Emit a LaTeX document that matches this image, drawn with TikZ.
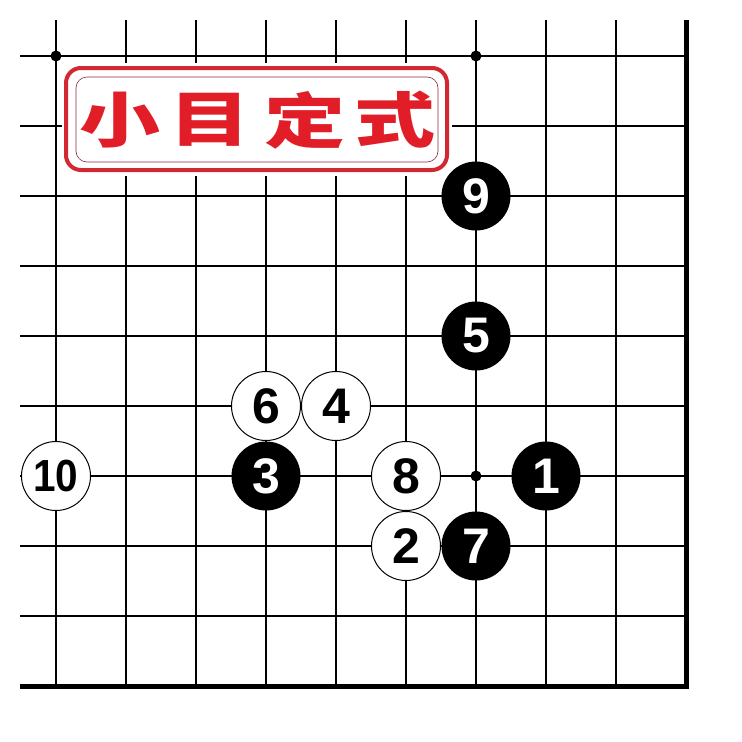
\documentclass[tikz,border=0pt]{standalone}
\usepackage{fontspec}
\setmainfont{Liberation Sans}
\newfontfamily\cjkfont{Noto Sans CJK SC}
\definecolor{boxred}{RGB}{210,40,50}
\definecolor{textred}{RGB}{225,30,40}
\definecolor{innerred}{RGB}{140,40,70}
\begin{document}
\begin{tikzpicture}[x=1pt,y=-1pt,
  gridline/.style={line width=2pt, black},
  border/.style={line width=5pt, black},
  stonebase/.style={circle, inner sep=0pt, minimum size=69pt, font=\fontsize{50}{50}\selectfont\bfseries},
  bstone/.style={stonebase, fill=black, text=white},
  wstone/.style={stonebase, fill=white, draw=black, line width=1pt, text=black},
  titlechar/.style={inner sep=0pt, text=textred, font=\cjkfont\bfseries\fontsize{60}{60}\selectfont}
]
\useasboundingbox[fill=white] (0,0) rectangle (742,742);
% grid
\foreach \x in {56,126,196,266,336,406,476,546,616}
  \draw[gridline] (\x,20) -- (\x,686);
\foreach \y in {56,126,196,266,336,406,476,546,616}
  \draw[gridline] (20,\y) -- (686,\y);
\draw[border] (686.5,20) -- (686.5,689);
\draw[border] (20,686.5) -- (689,686.5);
% star points
\foreach \p in {(56,56),(476,56),(476,476)}
  \fill \p circle (5.5pt);
% title box
\fill[white] (62,63) rectangle (452,176);
\draw[boxred, line width=4pt, rounded corners=15pt] (66,68) rectangle (447,170);
\draw[innerred, line width=0.6pt, rounded corners=11pt] (76,77) rectangle (438,162);
\node[titlechar] (t1) at (120,120) {\scalebox{1.35}[1]{小}};
\node[titlechar] (t2) at (210,120) {\scalebox{1.35}[1]{目}};
\node[titlechar] (t3) at (305,120) {\scalebox{1.35}[1]{定}};
\node[titlechar] (t4) at (395,120) {\scalebox{1.35}[1]{式}};
% stones
\node[bstone] (s1) at (546,476) {1};
\node[wstone] (s2) at (406,546) {2};
\node[bstone] (s3) at (266,476) {3};
\node[wstone] (s4) at (336,406) {4};
\node[bstone] (s5) at (476,336) {5};
\node[wstone] (s6) at (266,406) {6};
\node[bstone] (s7) at (476,546) {7};
\node[wstone] (s8) at (406,476) {8};
\node[bstone] (s9) at (476,196) {9};
\node[wstone, font=\fontsize{45}{45}\selectfont\bfseries] (s10) at (56,476) {\scalebox{0.9}[1]{10}};
\end{tikzpicture}
\end{document}
